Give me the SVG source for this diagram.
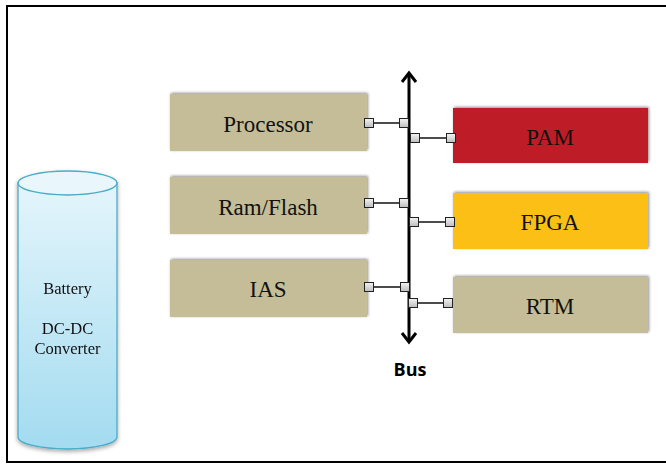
<svg xmlns="http://www.w3.org/2000/svg" width="666" height="464" viewBox="0 0 666 464">
<defs>
<linearGradient id="cyl" x1="0" y1="0" x2="0" y2="1">
<stop offset="0" stop-color="#E4F5FB"/>
<stop offset="1" stop-color="#A3DBF0"/>
</linearGradient>
<linearGradient id="sq" x1="0" y1="0" x2="0" y2="1">
<stop offset="0" stop-color="#F4F4F4"/>
<stop offset="1" stop-color="#BDBDBD"/>
</linearGradient>
<filter id="sh" x="-5%" y="-10%" width="110%" height="125%">
<feGaussianBlur in="SourceAlpha" stdDeviation="1.5"/>
<feOffset dx="1" dy="-1" result="b"/>
<feComponentTransfer><feFuncA type="linear" slope="0.45"/></feComponentTransfer>
<feMerge><feMergeNode/><feMergeNode in="SourceGraphic"/></feMerge>
</filter>
<filter id="glow" x="-20%" y="-10%" width="140%" height="120%">
<feGaussianBlur in="SourceAlpha" stdDeviation="2"/>
<feOffset dx="0" dy="2"/>
<feComponentTransfer><feFuncA type="linear" slope="0.35"/></feComponentTransfer>
<feMerge><feMergeNode/><feMergeNode in="SourceGraphic"/></feMerge>
</filter>
</defs>
<style>
.box{filter:url(#sh)}
.tan{fill:#C4BD97}
.lbl{font-family:"Liberation Serif","DejaVu Serif",serif;font-size:23px;fill:#111;text-anchor:middle;dominant-baseline:central}
.sm{font-family:"Liberation Serif","DejaVu Serif",serif;font-size:16.5px;fill:#111;text-anchor:middle;dominant-baseline:central}
.sq{fill:url(#sq);stroke:#222;stroke-width:1}
.ln{stroke:#111;stroke-width:1.6;fill:none}
</style>
<rect x="0" y="0" width="666" height="464" fill="#fff"/>
<path d="M680,6 H7 V462 H680" fill="none" stroke="#000" stroke-width="2"/>

<g id="battery" filter="url(#glow)">
<path d="M18,183 V437 A49.5,12 0 0 0 117,437 V183 Z" fill="url(#cyl)" stroke="#4AACC8" stroke-width="1.3"/>
<ellipse cx="67.5" cy="183" rx="49.5" ry="12" fill="#E9F7FC" stroke="#4AACC8" stroke-width="1.3"/>
<text class="sm" x="67.5" y="288">Battery</text>
<text class="sm" x="67.5" y="328">DC-DC</text>
<text class="sm" x="67.5" y="348">Converter</text>
</g>

<g id="processor"><rect class="box tan" x="170" y="94" width="197" height="57"/><text class="lbl" x="268" y="124">Processor</text></g>
<g id="ramflash"><rect class="box tan" x="170" y="177" width="197" height="57"/><text class="lbl" x="268" y="207">Ram/Flash</text></g>
<g id="ias"><rect class="box tan" x="170" y="260" width="197" height="57"/><text class="lbl" x="268" y="289">IAS</text></g>
<g id="pam"><rect class="box" fill="#BE1F28" x="453" y="108" width="195" height="55"/><text class="lbl" x="550" y="137">PAM</text></g>
<g id="fpga"><rect class="box" fill="#FBBF13" x="453" y="193" width="195" height="56"/><text class="lbl" x="550" y="222">FPGA</text></g>
<g id="rtm"><rect class="box tan" x="453" y="277" width="195" height="56"/><text class="lbl" x="550" y="306">RTM</text></g>

<g id="connectors">
<line x1="409" y1="73" x2="409" y2="342" stroke="#000" stroke-width="3"/>
<path d="M402,82 L409,73 L416,82" fill="none" stroke="#000" stroke-width="3"/>
<path d="M402,333 L409,342 L416,333" fill="none" stroke="#000" stroke-width="3"/>
<line class="ln" x1="369" y1="123" x2="404" y2="123"/>
<line class="ln" x1="415" y1="138" x2="451" y2="138"/>
<line class="ln" x1="369" y1="203" x2="404" y2="203"/>
<line class="ln" x1="414" y1="222" x2="450" y2="222"/>
<line class="ln" x1="369" y1="287" x2="405" y2="287"/>
<line class="ln" x1="413" y1="303" x2="448" y2="303"/>
<rect class="sq" x="364.5" y="118.5" width="9" height="9"/>
<rect class="sq" x="399.5" y="118.5" width="9" height="9"/>
<rect class="sq" x="410.5" y="133.5" width="9" height="9"/>
<rect class="sq" x="446.5" y="133.5" width="9" height="9"/>
<rect class="sq" x="364.5" y="198.5" width="9" height="9"/>
<rect class="sq" x="399.5" y="198.5" width="9" height="9"/>
<rect class="sq" x="409.5" y="217.5" width="9" height="9"/>
<rect class="sq" x="445.5" y="217.5" width="9" height="9"/>
<rect class="sq" x="364.5" y="282.5" width="9" height="9"/>
<rect class="sq" x="400.5" y="282.5" width="9" height="9"/>
<rect class="sq" x="408.5" y="298.5" width="9" height="9"/>
<rect class="sq" x="443.5" y="298.5" width="9" height="9"/>
</g>
<text x="410" y="369" font-family="'Open Sans','Liberation Sans',sans-serif" font-weight="bold" font-size="18" text-anchor="middle" dominant-baseline="central" fill="#000">Bus</text>
</svg>
